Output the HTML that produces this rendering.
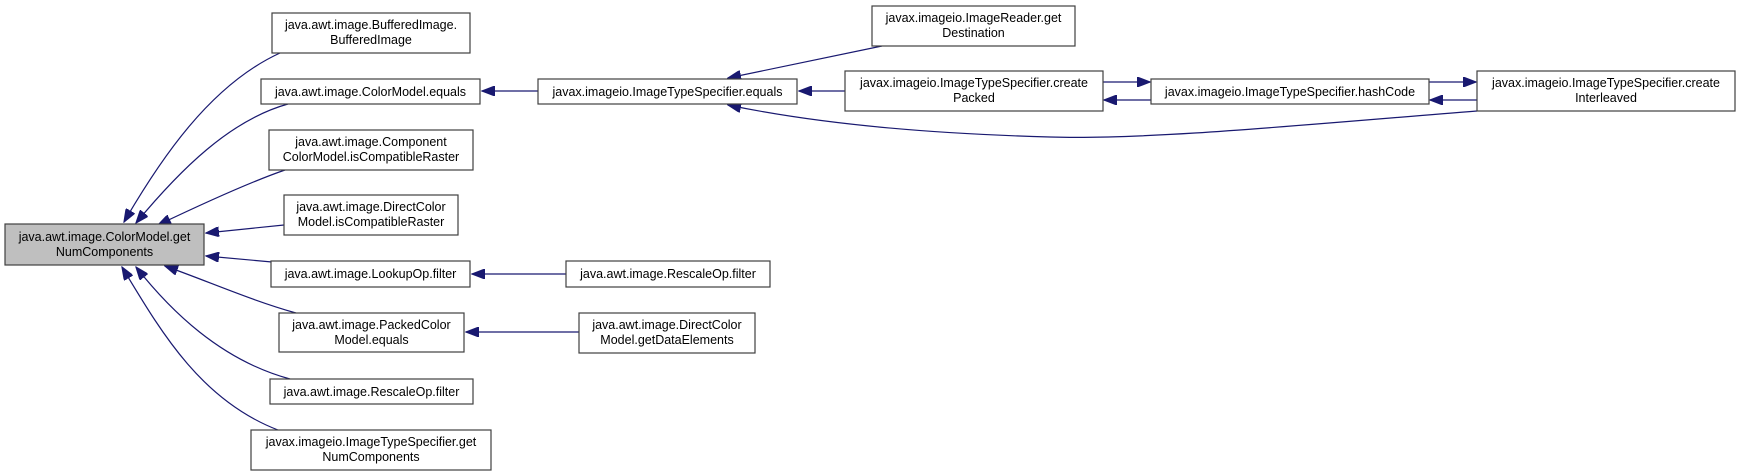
<!DOCTYPE html>
<html><head><meta charset="utf-8"><style>
html,body{margin:0;padding:0;background:#fff;}
svg{display:block;}
text{font-family:"Liberation Sans",Arial,sans-serif;font-size:12.5px;fill:#000;text-anchor:middle;}
rect{fill:#fff;stroke:#404040;stroke-width:1.2;}
path{fill:none;stroke:#191970;stroke-width:1.2;}
</style></head><body>
<svg width="1740" height="476" viewBox="0 0 1740 476" xmlns="http://www.w3.org/2000/svg">
<defs>
<marker id="a" markerWidth="14" markerHeight="10" refX="13" refY="5" orient="auto" markerUnits="userSpaceOnUse">
<path d="M0,0 L13,5 L0,10 Z" style="fill:#191970;stroke:#191970"/>
</marker>
</defs>
<!-- edges to main -->
<path d="M280,53 C210,85 160,160 124,222" marker-end="url(#a)"/>
<path d="M288,104 C230,120 180,170 136,223" marker-end="url(#a)"/>
<path d="M285,170 C250,182 200,205 158,225" marker-end="url(#a)"/>
<path d="M284,225 L206,233" marker-end="url(#a)"/>
<path d="M272,262 L206,256" marker-end="url(#a)"/>
<path d="M296,313 C250,300 210,282 165,266" marker-end="url(#a)"/>
<path d="M290,379 C220,360 170,310 136,267" marker-end="url(#a)"/>
<path d="M278,430 C200,400 160,330 122,267" marker-end="url(#a)"/>
<!-- other edges -->
<path d="M538,91 L482,91" marker-end="url(#a)"/>
<path d="M882,46 L728,78" marker-end="url(#a)"/>
<path d="M845,91 L799,91" marker-end="url(#a)"/>
<path d="M1477,111 C1300,125 1150,140 1050,137 C900,133 800,120 728,105" marker-end="url(#a)"/>
<path d="M1103,82 L1150,82" marker-end="url(#a)"/>
<path d="M1151,100 L1104,100" marker-end="url(#a)"/>
<path d="M1429,82 L1476,82" marker-end="url(#a)"/>
<path d="M1477,100 L1430,100" marker-end="url(#a)"/>
<path d="M566,274 L472,274" marker-end="url(#a)"/>
<path d="M579,332 L466,332" marker-end="url(#a)"/>
<!-- nodes -->
<rect x="5" y="224" width="199" height="41" style="fill:#bfbfbf"/>
<text x="104.5" y="241">java.awt.image.ColorModel.get</text>
<text x="104.5" y="256">NumComponents</text>

<rect x="272" y="13" width="198" height="40"/>
<text x="371" y="29">java.awt.image.BufferedImage.</text>
<text x="371" y="44">BufferedImage</text>

<rect x="261" y="79" width="219" height="25"/>
<text x="370.5" y="96">java.awt.image.ColorModel.equals</text>

<rect x="269" y="130" width="204" height="40"/>
<text x="371" y="146">java.awt.image.Component</text>
<text x="371" y="161">ColorModel.isCompatibleRaster</text>

<rect x="284" y="195" width="174" height="40"/>
<text x="371" y="211">java.awt.image.DirectColor</text>
<text x="371" y="226">Model.isCompatibleRaster</text>

<rect x="271" y="261" width="199" height="26"/>
<text x="370.5" y="278">java.awt.image.LookupOp.filter</text>

<rect x="279" y="313" width="185" height="39"/>
<text x="371.5" y="329">java.awt.image.PackedColor</text>
<text x="371.5" y="344">Model.equals</text>

<rect x="270" y="379" width="203" height="25"/>
<text x="371.5" y="396">java.awt.image.RescaleOp.filter</text>

<rect x="251" y="430" width="240" height="40"/>
<text x="371" y="446">javax.imageio.ImageTypeSpecifier.get</text>
<text x="371" y="461">NumComponents</text>

<rect x="538" y="79" width="259" height="25"/>
<text x="667.5" y="96">javax.imageio.ImageTypeSpecifier.equals</text>

<rect x="566" y="261" width="204" height="26"/>
<text x="668" y="278">java.awt.image.RescaleOp.filter</text>

<rect x="579" y="313" width="176" height="40"/>
<text x="667" y="329">java.awt.image.DirectColor</text>
<text x="667" y="344">Model.getDataElements</text>

<rect x="872" y="6" width="203" height="40"/>
<text x="973.5" y="22">javax.imageio.ImageReader.get</text>
<text x="973.5" y="37">Destination</text>

<rect x="845" y="71" width="258" height="40"/>
<text x="974" y="87">javax.imageio.ImageTypeSpecifier.create</text>
<text x="974" y="102">Packed</text>

<rect x="1151" y="79" width="278" height="25"/>
<text x="1290" y="96">javax.imageio.ImageTypeSpecifier.hashCode</text>

<rect x="1477" y="71" width="258" height="40"/>
<text x="1606" y="87">javax.imageio.ImageTypeSpecifier.create</text>
<text x="1606" y="102">Interleaved</text>
</svg>
</body></html>
